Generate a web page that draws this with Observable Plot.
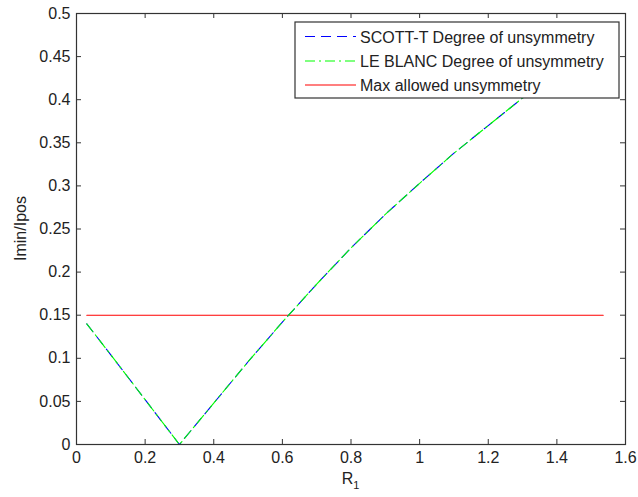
<!DOCTYPE html>
<html>
<head>
<meta charset="utf-8">
<script src="https://cdn.jsdelivr.net/npm/d3@7"></script>
<script src="https://cdn.jsdelivr.net/npm/@observablehq/plot@0.6"></script>
<style>
  html, body { margin: 0; padding: 0; background: #fff; }
  #chart { position: relative; width: 638px; height: 497px; }
</style>
</head>
<body>
<div id="chart"></div>
<script>
// ---- data ----
const r1      = [0.03, 0.1, 0.2, 0.3, 0.4, 0.5, 0.6, 0.7, 0.8, 0.9, 1.0, 1.1, 1.2, 1.3, 1.4, 1.53];
const scottT  = [0.14, 0.104, 0.052, 0.0, 0.048, 0.096, 0.142, 0.186, 0.228, 0.267, 0.303, 0.338, 0.370, 0.402, 0.43, 0.465];
const leBlanc = [0.14, 0.104, 0.052, 0.0, 0.048, 0.096, 0.142, 0.186, 0.228, 0.267, 0.303, 0.338, 0.370, 0.402, 0.43, 0.465];
const maxX    = [0.03, 1.535];
const maxY    = [0.15, 0.15];
const xTicks  = [0, 0.2, 0.4, 0.6, 0.8, 1, 1.2, 1.4, 1.6];
const yTicks  = [0, 0.05, 0.1, 0.15, 0.2, 0.25, 0.3, 0.35, 0.4, 0.45, 0.5];
const seriesNames = ["SCOTT-T Degree of unsymmetry", "LE BLANC Degree of unsymmetry", "Max allowed unsymmetry"];
const yLabel = "Imin/Ipos";

const scottData = r1.map((x, i) => ({x, y: scottT[i]}));
const leBlancData = r1.map((x, i) => ({x, y: leBlanc[i]}));
const maxData = maxX.map((x, i) => ({x, y: maxY[i]}));

const W = 638, H = 497;
const mL = 76, mR = 13, mT = 13, mB = 53;
const innerW = W - mL - mR, innerH = H - mT - mB;
const tickLen = 5;
const fmt = d3.format("~g");
const axisColor = "#333";

const plot = Plot.plot({
  width: W, height: H,
  marginLeft: mL, marginRight: mR, marginTop: mT, marginBottom: mB,
  style: {fontFamily: "'Liberation Sans', Arial, Helvetica, sans-serif", fontSize: "16px", color: "#222", background: "#fff"},
  x: {domain: [0, 1.6]},
  y: {domain: [0, 0.5]},
  marks: [
    Plot.line(maxData, {x: "x", y: "y", stroke: "#ff0000", strokeWidth: 1.1}),
    Plot.line(scottData, {x: "x", y: "y", stroke: "#0000ff", strokeWidth: 1.1, strokeDasharray: "10,6"}),
    Plot.line(leBlancData, {x: "x", y: "y", stroke: "#00ff00", strokeWidth: 1.1, strokeDasharray: "10,4,2,4"}),
    Plot.tickX(xTicks, {x: d => d, stroke: axisColor, insetTop: innerH - tickLen}),
    Plot.tickX(xTicks, {x: d => d, stroke: axisColor, insetBottom: innerH - tickLen}),
    Plot.tickY(yTicks, {y: d => d, stroke: axisColor, insetRight: innerW - tickLen}),
    Plot.tickY(yTicks, {y: d => d, stroke: axisColor, insetLeft: innerW - tickLen}),
    Plot.frame({stroke: axisColor, strokeWidth: 1.2}),
    Plot.axisX(xTicks, {tickSize: 0, tickPadding: 7, tickFormat: fmt, label: null, fill: "#222"}),
    Plot.axisY(yTicks, {tickSize: 0, tickPadding: 6, tickFormat: fmt, label: null, fill: "#222"})
  ]
});

document.getElementById("chart").appendChild(plot);

const svg = d3.select(plot);
const xs = plot.scale("x"), ys = plot.scale("y");
const cx = (xs.apply(0) + xs.apply(1.6)) / 2;
const cy = (ys.apply(0) + ys.apply(0.5)) / 2;

// x label R with subscript 1
const xl = svg.append("text")
  .attr("x", cx).attr("y", H - 13)
  .attr("text-anchor", "middle")
  .attr("fill", "#222")
  .attr("font-size", 16);
xl.append("tspan").text("R");
xl.append("tspan").attr("dy", 5).attr("font-size", 11).text("1");

// y label
svg.append("text")
  .attr("transform", `translate(${22},${cy}) rotate(-90)`)
  .attr("text-anchor", "middle")
  .attr("dominant-baseline", "middle")
  .attr("fill", "#222")
  .attr("font-size", 16)
  .text(yLabel);

// legend
const lg = svg.append("g").attr("text-anchor", "start");
const lx0 = 295, ly0 = 22, lx1 = 619, ly1 = 98;
lg.append("rect").attr("x", lx0).attr("y", ly0).attr("width", lx1 - lx0).attr("height", ly1 - ly0)
  .attr("fill", "#fff").attr("stroke", axisColor).attr("stroke-width", 1.2);
const rows = [36.5, 61, 85];
const styles = [
  {stroke: "#0000ff", dash: "10,6"},
  {stroke: "#00ff00", dash: "10,4,2,4"},
  {stroke: "#ff0000", dash: null}
];
rows.forEach((ry, i) => {
  lg.append("line").attr("x1", 305).attr("x2", 356).attr("y1", ry).attr("y2", ry)
    .attr("stroke", styles[i].stroke).attr("stroke-width", 1.1)
    .attr("stroke-dasharray", styles[i].dash);
  lg.append("text").attr("x", 360).attr("y", ry + 6)
    .attr("text-anchor", "start")
    .attr("fill", "#222").attr("font-size", 16)
    .text(seriesNames[i]);
});
</script>
</body>
</html>
